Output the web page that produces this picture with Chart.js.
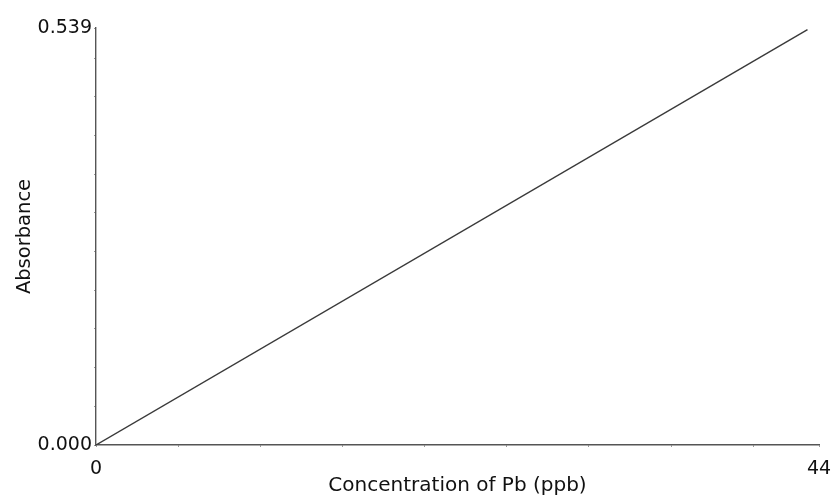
<!DOCTYPE html>
<html lang="en">
<head>
    <meta charset="UTF-8" />
    <title>Absorbance vs Concentration of Pb</title>
    <script src="https://cdn.jsdelivr.net/npm/chart.js"></script>
    <style>
        html, body { margin: 0; padding: 0; background: #fff; }
        .grafico-container { width: 834px; height: 501px; }
    </style>
</head>
<body>
    <div class="grafico-container">
        <canvas id="grafico" width="834" height="501"></canvas>
    </div>

    <script>
        // calibration line
        const concentration = [0, 43.3];
        const absorbance = [0, 0.537];

        // labelled ticks and small unlabelled tick marks
        const xTickLabels = [0, 44];
        const yTickLabels = [0, 0.539];
        const xMinorTicks = [5, 10, 15, 20, 25, 30, 35, 40];
        const yMinorTicks = [0.05, 0.1, 0.15, 0.2, 0.25, 0.3, 0.35, 0.4, 0.45, 0.5];

        const fonte = "'DejaVu Sans', Verdana, sans-serif";
        const ctx = document.getElementById("grafico").getContext("2d");

        const chart = new Chart(ctx, {
            type: 'scatter',
            data: {
                datasets: [{
                    label: 'Absorbance',
                    data: concentration.map((x, i) => ({ x: x, y: absorbance[i] })),
                    showLine: true,
                    borderColor: '#3a3a3a',
                    borderWidth: 1.4,
                    pointRadius: 0,
                    fill: false
                }]
            },
            options: {
                responsive: false,
                animation: false,
                layout: { padding: { top: 28, right: 15, bottom: 0, left: 0 } },
                plugins: {
                    legend: { display: false },
                    tooltip: { enabled: false }
                },
                scales: {
                    x: {
                        type: 'linear',
                        min: xTickLabels[0],
                        max: xTickLabels[xTickLabels.length - 1],
                        afterBuildTicks: (s) => {
                            s.ticks = [...xTickLabels, ...xMinorTicks].sort((a, b) => a - b).map(v => ({ value: v }));
                        },
                        afterFit: (s) => { s.height = 56; s.paddingRight = 0; s.paddingLeft = 0; },
                        border: { display: true, color: '#555', width: 1.4 },
                        grid: { drawOnChartArea: false, drawTicks: true, tickLength: 2, color: '#999' },
                        ticks: {
                            autoSkip: false,
                            maxRotation: 0,
                            padding: 11,
                            color: '#111',
                            font: { family: fonte, size: 19 },
                            callback: (v) => xTickLabels.includes(v) ? String(v) : ''
                        },
                        title: {
                            display: true,
                            text: 'Concentration of Pb (ppb)',
                            color: '#111',
                            font: { family: fonte, size: 20 },
                            padding: { top: 0, bottom: 3 }
                        }
                    },
                    y: {
                        type: 'linear',
                        min: yTickLabels[0],
                        max: yTickLabels[yTickLabels.length - 1],
                        afterBuildTicks: (s) => {
                            s.ticks = [...yTickLabels, ...yMinorTicks].sort((a, b) => a - b).map(v => ({ value: v }));
                        },
                        afterFit: (s) => { s.width = 96; },
                        border: { display: true, color: '#555', width: 1.4 },
                        grid: { drawOnChartArea: false, drawTicks: true, tickLength: 2, color: '#999' },
                        ticks: {
                            autoSkip: false,
                            padding: 2,
                            color: '#111',
                            font: { family: fonte, size: 19 },
                            callback: (v) => yTickLabels.includes(v) ? v.toFixed(3) : ''
                        },
                        title: {
                            display: true,
                            text: 'Absorbance',
                            color: '#111',
                            font: { family: fonte, size: 19.5 },
                            padding: { top: 13, bottom: 0 }
                        }
                    }
                }
            }
        });
    </script>
</body>
</html>
